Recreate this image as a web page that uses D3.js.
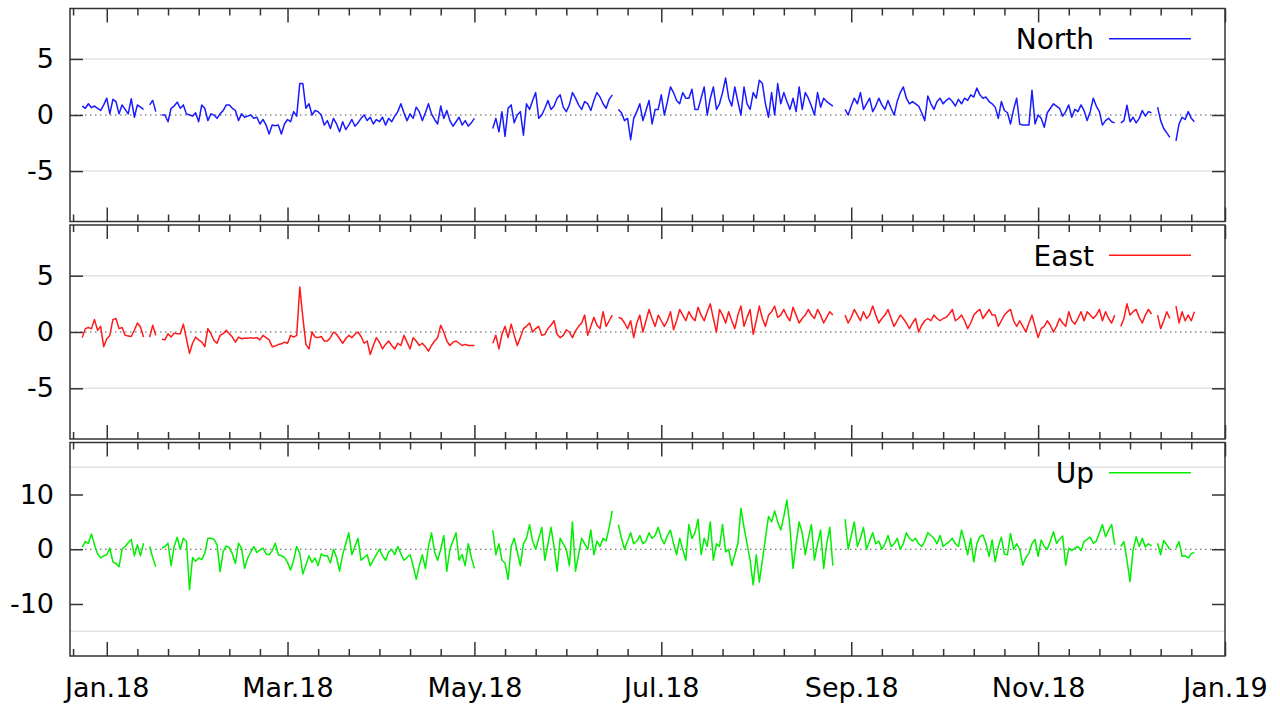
<!DOCTYPE html>
<html><head><meta charset="utf-8">
<script src="https://cdn.jsdelivr.net/npm/d3@7"></script>
<style>html,body{margin:0;padding:0;background:#fff}svg{display:block}</style>
</head><body>
<svg id="chart" width="1280" height="709"></svg>
<script>
// ---- DATA (daily values, first value = startDate, null = missing day) ----
const startDate = "2017-12-24";
const north = [
 0.8,0.6,1.0,0.65,0.8,0.6,0.4,0.9,1.5,0.1,1.4,1.2,0.1,0.9,0.5,0.1,1.45,-0.2,0.9,0.7,0.5,
 null,
 0.9,1.3,0.3,
 null,
 0,0,-0.6,0.6,0.8,1.15,0.6,0.9,0.1,0,-0.1,0.2,-0.6,0.9,0.6,-0.5,0.1,0,-0.3,0.1,0.4,0.9,0.9,0.6,0.4,
 -0.5,0.1,-0.2,-0.1,0,-0.3,-0.2,-0.8,-0.4,-0.9,-1.7,-0.9,-0.95,-0.9,-1.7,-0.8,-0.4,-0.6,0.3,-0.1,2.8,2.8,0.6,1.0,0,0.4,0.3,0,-0.9,
 -0.5,-1.2,-0.3,-0.8,-1.5,-0.6,-1.3,-0.9,-0.4,-1.0,-0.7,-0.3,0,-0.5,-0.2,-0.8,-0.4,-0.6,-0.2,-0.9,-0.3,-0.6,-0.1,0.3,1.0,0.2,-0.5,0.1,-0.3,0.7,0.3,-0.5,0.2,1.0,0.1,-0.4,-0.8,0.8,-0.3,0.4,-0.5,-1.0,-0.6,-0.2,-0.9,-0.5,-1.0,-0.7,-0.3,
 null,null,null,null,null,
 -1.2,-0.3,-1.5,0.3,-1.9,0.6,0.9,-0.7,0,0.3,-1.8,1.0,0.5,1.3,2.0,-0.3,0,0.6,1.3,0.5,0.8,1.5,1.8,0.7,0.3,0.9,2.0,1.5,0.9,0.5,1.2,1.0,0.4,1.3,2.0,1.6,1.0,0.6,1.4,1.8,
 null,
 0.5,0.2,-0.5,-0.3,-2.2,-0.3,0.3,1.0,-0.5,0.4,1.3,-0.8,0.5,0.5,1.8,0,1.2,2.5,2.0,1.3,1.0,2.0,1.5,1.5,2.3,0.5,0.5,1.5,2.5,0,1.5,2.5,0.5,1.0,2.0,3.3,1.5,0.8,2.5,1.2,0,2.5,1.0,0.5,2.0,1.5,3.1,2.8,1.0,-0.2,2.0,0,2.8,1.0,2.0,1.2,0.5,1.5,0.3,2.5,0.5,2.0,1.5,0.8,0,2.0,0.7,1.5,1.2,1.0,0.8,
 null,null,null,
 0.5,0,0.8,1.5,1.0,2.0,0.5,1.0,1.5,0.3,0.8,1.5,0.9,0.5,1.3,0.6,0,1.2,2.0,2.5,1.5,1.0,1.2,1.0,0.8,0.2,-0.5,1.7,1.0,0.5,1.2,1.5,1.0,1.3,1.5,1.2,0.8,1.4,1.0,1.5,1.3,1.8,1.6,2.4,1.8,1.5,1.6,1.2,1.0,0.7,-0.3,1.2,0.4,0.2,-0.8,0.5,1.5,-0.8,-0.9,-0.9,-0.9,2.2,-0.8,0,-0.3,-1.1,0.2,0.6,1.0,0.8,0.6,-0.1,0.3,0.9,-0.2,0.5,0.3,0.9,0.4,-0.5,0.3,1.5,0.8,0.3,-0.9,-0.5,-0.3,-0.6,-0.7,
 null,
 -0.7,-0.5,0.87,-0.6,-0.2,-0.7,-0.3,0.4,-0.1,0.3,0.2,
 null,
 0.7,-0.5,-1.2,-1.6,-2.0,
 null,
 -2.3,-0.8,-0.2,-0.4,0.3,-0.3,-0.6
];
const east = [
 -0.5,0.3,0.4,0.3,1.1,0.15,0.5,-1.3,-0.6,-0.3,1.1,1.2,0.3,0.4,-0.3,-0.35,-0.4,0.15,0.8,0.45,-0.45,
 null,
 -0.45,0.6,-0.3,
 null,
 -0.65,-0.7,-0.15,-0.45,-0.1,-0.15,-0.15,0.7,-0.6,-1.9,-1.0,-0.45,-0.7,-0.9,-1.3,0.3,-0.15,-0.75,-1.0,-0.3,-0.15,0.15,-0.15,-0.45,-0.9,
 -0.45,-0.6,-0.55,-0.55,-0.5,-0.55,-0.5,-0.7,-0.3,-0.5,-0.7,-1.3,-1.25,-1.1,-1.05,-0.9,-1.0,-0.3,-0.45,-0.3,4.0,1.3,-1.1,-1.5,0,-0.45,-0.5,-0.4,-0.8,
 -0.8,-0.5,0,-0.2,-0.6,-1.0,-0.6,-0.3,-0.5,-0.2,0,-0.4,-1.0,-0.8,-2.0,-1.2,-0.5,-0.9,-1.5,-1.1,-0.8,-1.2,-1.5,-1.0,-1.2,-0.3,-0.9,-1.5,-0.5,-0.8,-1.2,-1.0,-1.3,-1.7,-1.2,-0.8,-0.5,0.6,0,-0.8,-1.2,-0.9,-0.8,-1.0,-1.2,-1.1,-1.2,-1.2,-1.2,
 null,null,null,null,null,
 -1.0,-0.3,-1.5,-0.2,0.5,-0.5,0.7,-0.3,-1.2,-0.5,0.3,0.5,0.8,0,0.3,0.5,-0.3,-0.2,0.3,0.6,1.0,-0.2,-0.5,-0.3,0.2,0,-0.5,0.1,0.5,0.8,1.5,-0.3,0.5,1.3,0.6,0.3,1.8,0.5,1.0,1.5,
 null,
 1.3,1.2,0.8,0.3,1.0,-0.5,0.8,1.5,0,1.0,2.0,1.2,0.5,1.5,1.0,0.5,1.0,1.8,0.2,1.0,2.0,1.5,1.0,1.8,1.3,1.0,2.2,1.5,1.0,1.8,2.5,1.2,0,2.0,1.5,0.8,1.8,1.0,0.3,1.5,2.3,0.5,1.3,2.0,-0.2,1.0,2.3,1.2,0.5,1.5,1.8,2.3,1.3,1.5,2.0,1.4,1.0,2.2,1.5,0.8,1.2,1.5,2.0,1.5,1.2,2.0,1.5,0.8,1.3,1.8,1.5,
 null,null,null,
 1.5,0.8,1.3,2.0,1.5,1.0,1.8,1.2,1.5,2.3,1.5,0.8,1.2,1.5,2.0,1.2,0.5,1.0,1.5,1.2,0.8,0.3,0.8,1.2,0,0.6,1.0,1.2,1.0,1.5,1.2,1.0,1.2,1.3,1.6,2.0,1.0,1.2,1.5,1.0,0.3,0.8,1.5,1.8,2.0,1.2,1.6,2.0,1.5,1.5,0.5,1.0,1.5,1.8,2.0,1.0,0.5,1.0,0.5,0,0.8,1.5,0.5,-0.5,0.3,0.5,1.0,0.6,0,0.5,1.2,0.8,0.5,1.8,1.0,0.7,1.2,1.8,1.0,1.8,1.5,1.2,1.5,2.0,1.0,1.8,1.2,0.8,1.5,
 null,
 0.5,1.2,2.5,1.5,1.8,2.0,1.3,0.8,1.5,2.0,1.6,
 null,
 1.5,0.3,1.0,1.8,1.2,
 null,
 2.3,0.8,1.8,1.0,1.5,1.0,1.8
];
const up = [
 0.37,1.4,1.1,2.8,0.8,-0.85,-1.6,-1.2,-1.0,0.2,-2.3,-2.6,-3.2,0,0.5,1.2,1.8,-1.2,0.8,-1.2,1.1,
 null,
 0.5,-1.5,-3.2,
 null,
 0.2,0.5,1.1,-3.0,0.5,2.2,0,2.0,1.4,-7.4,-1.5,-2.2,-1.6,-1.9,-0.7,2.0,2.0,1.8,0.8,-4.1,-0.4,0.6,0.3,-0.85,-2.6,
 1.1,0.2,-3.5,-1.6,-0.5,0.5,-0.6,-0.1,0.2,-0.85,-1.0,-0.25,1.1,-1.0,-1.2,-1.5,-2.4,-3.8,-2.0,0.5,-0.7,-4.5,-2.9,-1.2,-2.4,-1.6,-3.0,-0.85,-1.2,
 -1.2,-2.5,0,-1.5,-4.0,-1.0,1.0,3.0,-1.0,0.5,2.0,-2.0,-1.5,-1.0,-3.0,-2.0,-1.0,0,-1.2,-2.0,-0.5,0,-1.0,0.5,-0.8,-2.0,-1.5,-1.0,-3.0,-5.5,-3.0,-1.0,-3.5,0.5,3.0,-0.5,-2.0,0,2.5,-4.0,0,1.5,3.0,-2.0,-1.0,-3.0,1.0,-1.5,-3.5,
 null,null,null,null,null,
 3.5,-1.0,1.0,-2.0,-2.5,-5.5,0.5,2.0,-0.5,-3.0,1.0,2.0,4.5,1.5,0,2.0,4.0,-2.0,1.0,4.0,0.5,-4.0,2.0,1.0,0,-3.0,5.0,-4.0,-1.0,2.0,1.0,0,3.5,-1.0,1.5,0.5,2.0,1.5,4.0,7.0,
 null,
 4.5,2.0,0,1.5,3.0,1.0,1.5,2.5,1.0,1.5,3.0,2.0,2.5,4.0,2.0,1.0,2.5,3.5,1.0,-1.0,2.0,0,-2.0,4.5,2.0,3.0,5.5,-1.0,2.0,0.5,5.0,-2.0,1.0,0.5,4.5,-0.5,0,-3.0,-1.0,1.0,7.5,4.0,1.0,-2.0,-6.5,-1.0,-6.0,-2.0,2.0,6.0,5.0,7.0,5.0,3.5,6.0,9.0,4.0,-3.5,1.0,5.0,3.0,-1.0,2.0,4.5,-2.0,1.0,3.5,-3.5,1.0,4.0,-3.0,
 null,null,null,
 5.5,0,2.5,5.0,0.5,2.0,4.0,0,1.5,3.0,1.0,1.5,0,1.0,2.5,0.5,1.0,2.0,0,1.0,3.0,2.0,1.5,2.0,1.0,0.5,1.5,3.0,2.5,2.0,1.0,2.5,0.5,1.0,1.4,2.0,1.0,0.5,3.5,1.5,-1.0,2.0,-2.3,1.0,2.3,2.6,1.0,-1.3,1.7,-2.3,0.5,2.2,-0.9,-1.0,2.9,0,1.0,0,-2.9,-1.5,-0.7,1.0,1.8,-1.3,1.7,0.5,0,1.5,3.2,1.1,1.8,2.4,-2.9,0.2,-0.25,0.2,0.5,-0.25,1.4,1.8,2.2,1.1,1.5,3.0,4.5,2.3,3.5,4.5,0.8,
 null,
 0.5,1.4,-2.0,-5.9,-0.2,2.3,0.5,2.0,0.4,1.0,0.6,
 null,
 1.1,-1.0,1.6,0.8,0,
 null,
 0.2,1.4,-1.3,-1.2,-1.6,-0.8,-0.6
];
const seriesNames = ["North", "East", "Up"];
const seriesColors = ["#1a1aff", "#ff1a1a", "#00ee00"];
const yDomains = [[-9.5, 9.5], [-9.5, 9.5], [-19.5, 19.5]];
const yTickValues = [[-5, 0, 5], [-5, 0, 5], [-10, 0, 10]];
const yGridValues = [[-5, 5], [-5, 5], [-15, 15]];
const xDomain = ["2017-12-20", "2019-01-01"];
const xTickDates = ["2018-01-01", "2018-03-01", "2018-05-01", "2018-07-01", "2018-09-01", "2018-11-01", "2019-01-01"];
const xTickLabels = ["Jan.18", "Mar.18", "May.18", "Jul.18", "Sep.18", "Nov.18", "Jan.19"];

// ---- LAYOUT ----
const left = 70, right = 1225;
const panels = [{y0: 8.5, y1: 221.5}, {y0: 225, y1: 439}, {y0: 442.5, y1: 656}];
const FONT = "'DejaVu Sans', sans-serif";
const FS = 27;
const AX = "#333333";

const parse = d3.utcParse("%Y-%m-%d");
const x = d3.scaleUtc().domain(xDomain.map(parse)).range([left, right]);
const t0 = parse(startDate);
const majorDates = xTickDates.map(parse);
const labelOf = new Map(majorDates.map((d, i) => [+d, xTickLabels[i]]));
// minor ticks: every 10 days after each major (2-month) tick
const minorDates = [];
[parse("2017-11-01")].concat(majorDates).forEach(m => {
  for (let k = 1; k <= 5; k++) {
    const d = d3.utcDay.offset(m, 10 * k);
    if (d >= x.domain()[0] && d <= x.domain()[1]) minorDates.push(d);
  }
});

const svg = d3.select("#chart");
svg.append("rect").attr("width", 1280).attr("height", 709).attr("fill", "#fff");

const allSeries = [north, east, up];

function styleAxis(g) {
  g.select(".domain").remove();
  g.selectAll(".tick line").attr("stroke", AX).attr("stroke-width", 1.5);
  g.selectAll("text").attr("font-family", FONT).attr("font-size", FS).attr("fill", "#000");
}

allSeries.forEach((vals, p) => {
  const P = panels[p];
  const y = d3.scaleLinear().domain(yDomains[p]).range([P.y1, P.y0]);
  const g = svg.append("g");

  // grid lines
  g.selectAll("line.grid").data(yGridValues[p]).join("line")
    .attr("class", "grid")
    .attr("x1", left).attr("x2", right)
    .attr("y1", d => y(d)).attr("y2", d => y(d))
    .attr("stroke", "#e2e2e2").attr("stroke-width", 1.5);

  // zero axis (dotted)
  g.append("line")
    .attr("x1", left).attr("x2", right)
    .attr("y1", y(0)).attr("y2", y(0))
    .attr("stroke", "#555").attr("stroke-width", 1.2)
    .attr("stroke-dasharray", "1.5,3.5");

  // data line
  const pts = vals.map((v, i) => ({d: d3.utcDay.offset(t0, i), v}));
  const line = d3.line().defined(d => d.v !== null).x(d => x(d.d)).y(d => y(d.v));
  g.append("path").datum(pts)
    .attr("d", line)
    .attr("fill", "none")
    .attr("stroke", seriesColors[p])
    .attr("stroke-width", 1.5)
    .attr("stroke-linejoin", "round");

  // y axes (left with labels, right mirror)
  const ya = g.append("g").attr("transform", `translate(${left},0)`)
    .call(d3.axisLeft(y).tickValues(yTickValues[p]).tickSize(-13).tickPadding(16).tickFormat(d => String(d)));
  styleAxis(ya);
  const yb = g.append("g").attr("transform", `translate(${right},0)`)
    .call(d3.axisRight(y).tickValues(yTickValues[p]).tickSize(-13).tickFormat(""));
  styleAxis(yb);

  // x axes top/bottom, major + minor
  const isLast = p === panels.length - 1;
  const xb = g.append("g").attr("transform", `translate(0,${P.y1})`)
    .call(d3.axisBottom(x).tickValues(majorDates).tickSize(-14).tickPadding(22)
      .tickFormat(d => isLast ? labelOf.get(+d) : ""));
  styleAxis(xb);
  const xbm = g.append("g").attr("transform", `translate(0,${P.y1})`)
    .call(d3.axisBottom(x).tickValues(minorDates).tickSize(-7).tickFormat(""));
  styleAxis(xbm);
  const xt = g.append("g").attr("transform", `translate(0,${P.y0})`)
    .call(d3.axisTop(x).tickValues(majorDates).tickSize(-14).tickFormat(""));
  styleAxis(xt);
  const xtm = g.append("g").attr("transform", `translate(0,${P.y0})`)
    .call(d3.axisTop(x).tickValues(minorDates).tickSize(-7).tickFormat(""));
  styleAxis(xtm);

  // border
  g.append("rect")
    .attr("x", left).attr("y", P.y0)
    .attr("width", right - left).attr("height", P.y1 - P.y0)
    .attr("fill", "none").attr("stroke", AX).attr("stroke-width", 1.5);

  // legend
  const ly = P.y0 + 30.2;
  g.append("line").attr("x1", 1109).attr("x2", 1191).attr("y1", ly).attr("y2", ly)
    .attr("stroke", seriesColors[p]).attr("stroke-width", 1.5);
  g.append("text").attr("x", 1094).attr("y", ly + 10.3)
    .attr("text-anchor", "end")
    .attr("font-family", FONT).attr("font-size", FS + 1).attr("fill", "#000")
    .text(seriesNames[p]);
});
</script>
</body></html>
